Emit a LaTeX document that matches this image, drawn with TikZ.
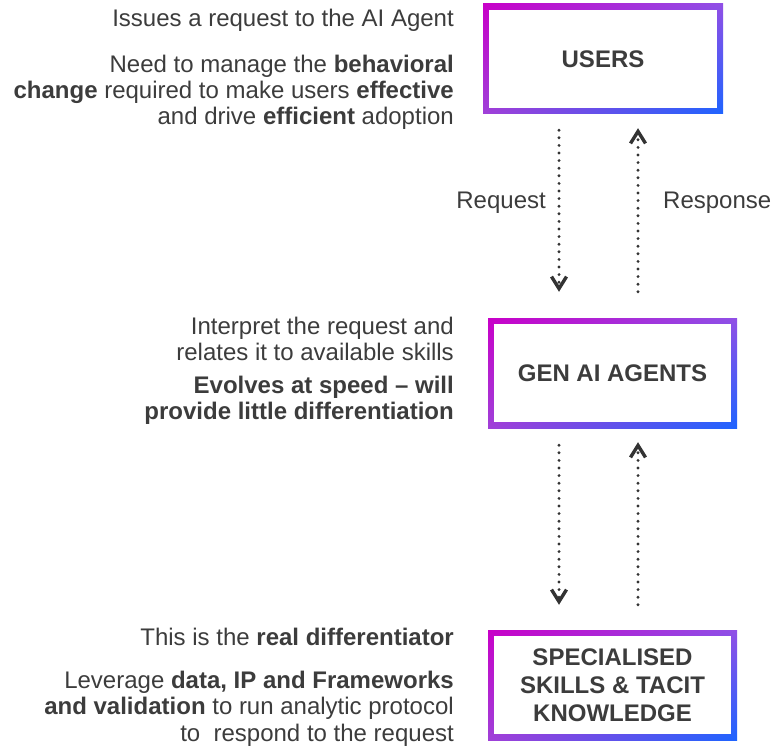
\documentclass[tikz,border=0pt]{standalone}
\usepackage{fontspec}
\setmainfont{Liberation Sans}
\usepackage{xcolor}
\usepackage{tikz}
\usetikzlibrary{arrows.meta, positioning, shadings, calc}

\definecolor{inkgray}{HTML}{3C3C3C}
\definecolor{dotgray}{HTML}{333333}
\definecolor{edgemagenta}{HTML}{C800C8}
\definecolor{edgeviolet}{HTML}{9050E6}
\definecolor{edgepurple}{HTML}{A040D8}
\definecolor{edgeblue}{HTML}{1E64FF}

\begin{document}
\begin{tikzpicture}[x=1pt, y=-1pt,
    note/.style={align=right, inner sep=0pt, text=inkgray, font=\fontsize{24}{26}\selectfont},
    layerbox/.style={rectangle, inner sep=0pt, align=center, text=inkgray,
        font=\fontsize{24}{28}\selectfont\bfseries,
        path picture={
            \shade[upper left=edgemagenta, upper right=edgeviolet, lower left=edgepurple, lower right=edgeblue]
                (path picture bounding box.north west) rectangle (path picture bounding box.south east);
            \fill[white] ([shift={(6pt,-6pt)}]path picture bounding box.north west)
                rectangle ([shift={(-6pt,6pt)}]path picture bounding box.south east);
        }},
    flow/.style={draw=dotgray, line width=3.2pt, line cap=round, dash pattern=on 0pt off 7.6pt,
        -{Straight Barb[length=12pt, width=15pt, line width=3.4pt]}}]
    \useasboundingbox (0,0) rectangle (775,754);

    % Layers
    \node[layerbox, minimum width=240pt, minimum height=110pt] (users) at (603,59) {USERS};
    \node[layerbox, minimum width=249pt, minimum height=110pt] (agents) at (612.5,373) {GEN AI AGENTS};
    \node[layerbox, minimum width=249pt, minimum height=110pt] (skills) at (612.5,685)
        {SPECIALISED\\SKILLS \& TACIT\\KNOWLEDGE};

    % Notes on the left (base = last line)
    \node[note, anchor=base east] (usersask) at (454,27) {Issues a request to the AI Agent};
    \node[note, anchor=base east] (usersneed) at (454,125)
        {Need to manage the \textbf{behavioral}\\\textbf{change} required to make users \textbf{effective}\\and drive \textbf{efficient} adoption};

    \node[note, anchor=base east] (agentsjob) at (454,360)
        {Interpret the request and\\relates it to available skills};
    \node[note, anchor=base east, font=\fontsize{24}{26}\selectfont\bfseries] (agentsspeed) at (454,419)
        {Evolves at speed -- will\\provide little differentiation};

    \node[note, anchor=base east] (skillsreal) at (454,645) {This is the \textbf{real differentiator}};
    \node[note, anchor=base east, font=\fontsize{24}{26.5}\selectfont] (skillsdata) at (454,741)
        {Leverage \textbf{data, IP and Frameworks}\\\textbf{and validation} to run analytic protocol\\to\ \ respond to the request};

    % Request / response
    \coordinate (reqline) at (559,0);
    \coordinate (respline) at (638,0);

    \draw[flow, shorten <=16pt, shorten >=26pt] (users.south -| reqline) -- (agents.north -| reqline);
    \draw[flow, shorten <=26pt, shorten >=14pt] (agents.north -| respline) -- (users.south -| respline);
    \draw[flow, shorten <=17pt, shorten >=25pt] (agents.south -| reqline) -- (skills.north -| reqline);
    \draw[flow, shorten <=25pt, shorten >=14pt] (skills.north -| respline) -- (agents.south -| respline);

    \node[note, anchor=base east] (reqlabel) at (546,208) {Request};
    \node[note, anchor=base west] (resplabel) at (663,208) {Response};
\end{tikzpicture}
\end{document}
